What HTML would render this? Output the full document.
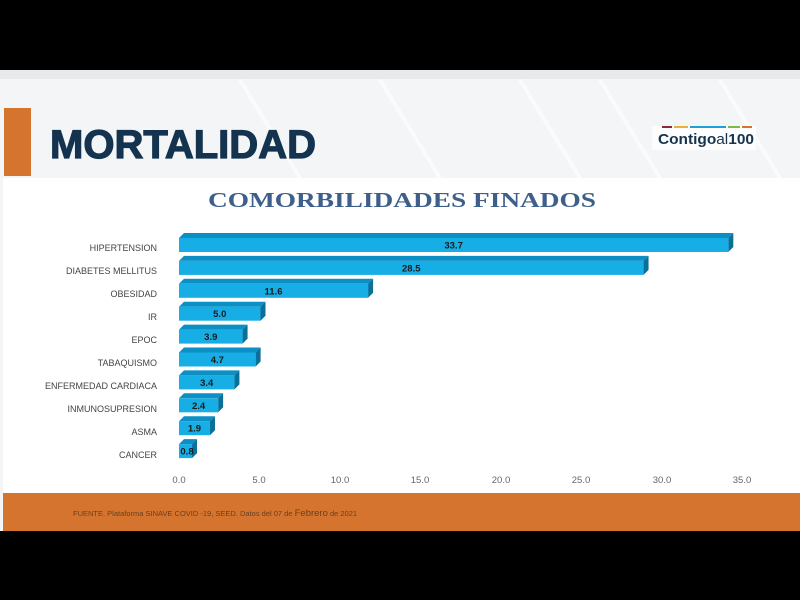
<!DOCTYPE html>
<html><head><meta charset="utf-8"><style>
body{margin:0;width:800px;height:600px;background:#000;overflow:hidden;position:relative;font-family:"Liberation Sans",sans-serif}
</style></head><body>
<svg width="800" height="600" viewBox="0 0 800 600" xmlns="http://www.w3.org/2000/svg" style="position:absolute;left:0;top:0">
<rect x="0" y="70" width="800" height="461" fill="#f4f5f6"/>
<rect x="0" y="70" width="800" height="9" fill="#e8e9ea"/>
<g stroke="#ffffff" stroke-width="4" opacity="0.6">
<line x1="240" y1="80" x2="300" y2="178"/><line x1="380" y1="80" x2="440" y2="178"/><line x1="520" y1="80" x2="580" y2="178"/><line x1="600" y1="80" x2="660" y2="178"/><line x1="720" y1="80" x2="780" y2="178"/>
</g>
<rect x="4" y="108" width="27" height="68" fill="#d4742e"/>
<text x="50" y="158" font-family="Liberation Sans" font-weight="bold" font-size="40" fill="#14334f" stroke="#14334f" stroke-width="1.2" textLength="266" lengthAdjust="spacingAndGlyphs">MORTALIDAD</text>
<rect x="652" y="126" width="104" height="24" fill="#fff" opacity="0.8"/>
<rect x="662" y="126" width="10" height="2" fill="#8b2a3a"/><rect x="674" y="126" width="14" height="2" fill="#e8b23a"/><rect x="690" y="126" width="36" height="2" fill="#1ea0d8"/><rect x="728" y="126" width="12" height="2" fill="#7cbb4a"/><rect x="742" y="126" width="10" height="2" fill="#d4742e"/>
<text x="658" y="144" font-weight="bold" font-size="15" fill="#14334f" textLength="96" lengthAdjust="spacingAndGlyphs">Contigo<tspan font-weight="normal">al</tspan>100</text>
<rect x="3" y="178" width="797" height="315" fill="#ffffff"/>
<text x="402" y="207" text-anchor="middle" font-family="Liberation Serif" font-weight="bold" font-size="21" fill="#3d5f8a" textLength="388" lengthAdjust="spacingAndGlyphs">COMORBILIDADES FINADOS</text>
<g font-size="9" fill="#444" text-anchor="end">
<text x="157" y="251">HIPERTENSION</text>
<text x="157" y="274">DIABETES MELLITUS</text>
<text x="157" y="297">OBESIDAD</text>
<text x="157" y="320">IR</text>
<text x="157" y="343">EPOC</text>
<text x="157" y="366">TABAQUISMO</text>
<text x="157" y="389">ENFERMEDAD CARDIACA</text>
<text x="157" y="412">INMUNOSUPRESION</text>
<text x="157" y="435">ASMA</text>
<text x="157" y="458">CANCER</text>
</g>
<g id="bars"></g>
<g font-size="9.5" fill="#666" text-anchor="middle">
<text x="179" y="483">0.0</text><text x="259" y="483">5.0</text><text x="340" y="483">10.0</text><text x="420" y="483">15.0</text><text x="501" y="483">20.0</text><text x="581" y="483">25.0</text><text x="662" y="483">30.0</text><text x="742" y="483">35.0</text>
</g>
<rect x="3" y="493" width="797" height="38" fill="#d4742e"/>
<text x="73" y="516" font-size="7.5" fill="#6a4020">FUENTE. Plataforma SINAVE COVID -19, SEED. Datos del 07 de <tspan font-size="9.5">Febrero</tspan> de 2021</text>
</svg>
<script>
var v=[33.7,28.5,11.6,5.0,3.9,4.7,3.4,2.4,1.9,0.8];
var g=document.getElementById('bars'),s='';
for(var i=0;i<v.length;i++){
 var y=238+i*22.9,w=v[i]*16.3,x=179,h=14,d=5;
 s+='<polygon points="'+x+','+y+' '+(x+d)+','+(y-d)+' '+(x+w+d)+','+(y-d)+' '+(x+w)+','+y+'" fill="#0b8fc4"/>';
 s+='<polygon points="'+(x+w)+','+y+' '+(x+w+d)+','+(y-d)+' '+(x+w+d)+','+(y+h-d)+' '+(x+w)+','+(y+h)+'" fill="#0a6f99"/>';
 s+='<rect x="'+x+'" y="'+y+'" width="'+w+'" height="'+h+'" fill="#17aee6"/>';
 s+='<text x="'+(x+Math.max(w/2,8))+'" y="'+(y+10.5)+'" text-anchor="middle" font-size="9.5" font-weight="bold" fill="#1a1a1a">'+v[i].toFixed(1)+'</text>';
}
g.innerHTML=s;
</script>
</body></html>
